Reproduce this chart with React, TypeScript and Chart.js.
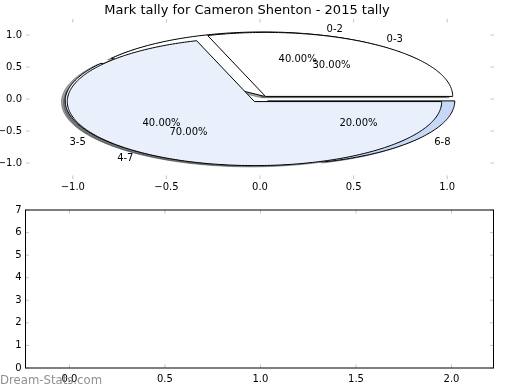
import React, { useEffect, useRef } from 'react';
import { Chart, registerables } from 'chart.js';

Chart.register(...registerables);

// ---------- data ----------
const TITLE = 'Mark tally for Cameron Shenton - 2015 tally';
const pieALabels = ['0-2', '3-5', '6-8'];
const pieAValues = [40, 40, 20];
const pieBLabels = ['0-3', '4-7'];
const pieBValues = [30, 70];
const sliceColors = ['#ffffff', '#eaf0fb', '#c6d8f5'];
const explodeAmount = 0.05;

const topXTicks = [-1.0, -0.5, 0.0, 0.5, 1.0];
const topYTicks = [-1.0, -0.5, 0.0, 0.5, 1.0];
const bottomXTicks = [0.0, 0.5, 1.0, 1.5, 2.0];
const bottomYTicks = [0, 1, 2, 3, 4, 5, 6, 7];
const WATERMARK = 'Dream-Stats.com';

const FONT = 'DejaVu Sans';

function fmt1(v: number) {
  const s = Math.abs(v).toFixed(1);
  return v < 0 ? '\u2212' + s : s;
}

function hexToRgb(h: string) {
  const n = parseInt(h.slice(1), 16);
  return [(n >> 16) & 255, (n >> 8) & 255, n & 255];
}

function drawInwardTicks(chart: any) {
  const { ctx, chartArea: a, scales } = chart;
  const L = 3.5;
  ctx.save();
  ctx.strokeStyle = '#c4c4c4';
  ctx.lineWidth = 1;
  ctx.beginPath();
  scales.x.ticks.forEach((t: any) => {
    const px = scales.x.getPixelForValue(t.value);
    ctx.moveTo(px, a.top);
    ctx.lineTo(px, a.top + L);
    ctx.moveTo(px, a.bottom);
    ctx.lineTo(px, a.bottom - L);
  });
  scales.y.ticks.forEach((t: any) => {
    const py = scales.y.getPixelForValue(t.value);
    ctx.moveTo(a.left, py);
    ctx.lineTo(a.left + L, py);
    ctx.moveTo(a.right, py);
    ctx.lineTo(a.right - L, py);
  });
  ctx.stroke();
  ctx.restore();
}

function wedgePath(chart: any, cx: number, cy: number, r: number, t1: number, t2: number) {
  const xs = chart.scales.x;
  const ys = chart.scales.y;
  const ctx = chart.ctx;
  ctx.beginPath();
  ctx.moveTo(xs.getPixelForValue(cx), ys.getPixelForValue(cy));
  const n = Math.max(8, Math.ceil(t2 - t1));
  for (let i = 0; i <= n; i++) {
    const t = ((t1 + ((t2 - t1) * i) / n) * Math.PI) / 180;
    ctx.lineTo(xs.getPixelForValue(cx + r * Math.cos(t)), ys.getPixelForValue(cy + r * Math.sin(t)));
  }
  ctx.closePath();
}

function buildWedges(labels: string[], values: number[]) {
  const total = values.reduce((s, v) => s + v, 0);
  let theta1 = 0;
  return values.map((v, i) => {
    const theta2 = theta1 + (360 * v) / total;
    const mid = (((theta1 + theta2) / 2) * Math.PI) / 180;
    const cx = explodeAmount * Math.cos(mid);
    const cy = explodeAmount * Math.sin(mid);
    const w = {
      label: labels[i],
      pct: ((100 * v) / total).toFixed(2) + '%',
      t1: theta1,
      t2: theta2,
      mid,
      cx,
      cy,
      color: sliceColors[i % sliceColors.length],
    };
    theta1 = theta2;
    return w;
  });
}

const piePlugin = {
  id: 'overlayPies',
  afterDatasetsDraw(chart: any) {
    const ctx = chart.ctx;
    const xs = chart.scales.x;
    const ys = chart.scales.y;
    const pies = [buildWedges(pieALabels, pieAValues), buildWedges(pieBLabels, pieBValues)];
    ctx.save();
    // shadows (below all wedges)
    pies.forEach((pie) =>
      pie.forEach((w) => {
        const [r, g, b] = hexToRgb(w.color);
        const c = `rgba(${Math.round(r * 0.3)},${Math.round(g * 0.3)},${Math.round(b * 0.3)},0.5)`;
        wedgePath(chart, w.cx - 0.02, w.cy - 0.02, 1, w.t1, w.t2);
        ctx.fillStyle = c;
        ctx.fill();
        ctx.strokeStyle = c;
        ctx.lineWidth = 1;
        ctx.stroke();
      })
    );
    // wedges
    pies.forEach((pie) =>
      pie.forEach((w) => {
        wedgePath(chart, w.cx, w.cy, 1, w.t1, w.t2);
        ctx.fillStyle = w.color;
        ctx.fill();
        ctx.strokeStyle = '#000';
        ctx.lineWidth = 1;
        ctx.lineJoin = 'miter';
        ctx.stroke();
      })
    );
    // texts
    ctx.font = `10px "${FONT}"`;
    ctx.fillStyle = '#000';
    ctx.textBaseline = 'middle';
    pies.forEach((pie) =>
      pie.forEach((w) => {
        const lx = w.cx + 1.1 * Math.cos(w.mid);
        const ly = w.cy + 1.1 * Math.sin(w.mid);
        ctx.textAlign = lx > 0 ? 'left' : 'right';
        ctx.fillText(w.label, xs.getPixelForValue(lx), ys.getPixelForValue(ly));
        const px = w.cx + 0.6 * Math.cos(w.mid);
        const py = w.cy + 0.6 * Math.sin(w.mid);
        ctx.textAlign = 'center';
        ctx.fillText(w.pct, xs.getPixelForValue(px), ys.getPixelForValue(py));
      })
    );
    ctx.restore();
    drawInwardTicks(chart);
  },
};

const framePlugin = {
  id: 'frameAndMark',
  afterDatasetsDraw(chart: any) {
    const { ctx, chartArea: a } = chart;
    drawInwardTicks(chart);
    ctx.save();
    ctx.strokeStyle = '#000';
    ctx.lineWidth = 1;
    ctx.strokeRect(a.left, a.top, a.right - a.left, a.bottom - a.top);
    ctx.restore();
  },
  afterDraw(chart: any) {
    const ctx = chart.ctx;
    ctx.save();
    ctx.font = `11.7px "${FONT}"`;
    ctx.fillStyle = 'rgba(125,125,125,0.85)';
    ctx.textAlign = 'left';
    ctx.textBaseline = 'alphabetic';
    ctx.fillText(WATERMARK, 0, 189);
    ctx.restore();
  },
};

function axis(min: number, max: number, ticks: number[], fmt: (v: number) => string, fit: (s: any) => void, pad: number) {
  return {
    type: 'linear' as const,
    min,
    max,
    grid: { display: false, drawTicks: false },
    border: { display: false },
    ticks: {
      autoSkip: false,
      maxRotation: 0,
      padding: pad,
      color: '#000',
      font: { family: FONT, size: 10 },
      callback: (v: any) => fmt(Number(v)),
    },
    afterBuildTicks: (s: any) => {
      s.ticks = ticks.map((v) => ({ value: v }));
    },
    afterFit: fit,
  };
}

export default function App() {
  const topRef = useRef<HTMLCanvasElement>(null);
  const botRef = useRef<HTMLCanvasElement>(null);

  useEffect(() => {
    document.body.style.margin = '0';
    const top = new Chart(topRef.current as HTMLCanvasElement, {
      type: 'scatter',
      data: { datasets: [{ data: [] }] },
      options: {
        responsive: false,
        animation: false,
        devicePixelRatio: 1,
        layout: { padding: { top: 0, right: 26, left: 0, bottom: 0 } },
        plugins: {
          legend: { display: false },
          tooltip: { enabled: false },
          title: {
            display: true,
            text: TITLE,
            color: '#000',
            font: { family: FONT, size: 13, weight: 'normal', lineHeight: 1.2 },
            padding: { top: 3, bottom: 0.4 },
          },
        },
        scales: {
          x: axis(-1.25, 1.25, topXTicks, fmt1, (s: any) => { s.height = 16; }, 2),
          y: axis(-1.25, 1.25, topYTicks, fmt1, (s: any) => { s.width = 26; }, 4),
        },
      } as any,
      plugins: [piePlugin],
    });
    const bot = new Chart(botRef.current as HTMLCanvasElement, {
      type: 'scatter',
      data: { datasets: [{ data: [] }] },
      options: {
        responsive: false,
        animation: false,
        devicePixelRatio: 1,
        layout: { padding: { top: 15, right: 26.5, left: 0, bottom: 0 } },
        plugins: { legend: { display: false }, tooltip: { enabled: false } },
        scales: {
          x: axis(-0.23, 2.22, bottomXTicks, fmt1, (s: any) => { s.height = 22; }, 5),
          y: axis(0, 7, bottomYTicks, (v) => String(Math.round(v)), (s: any) => { s.width = 25.5; }, 4),
        },
      } as any,
      plugins: [framePlugin],
    });
    return () => {
      top.destroy();
      bot.destroy();
    };
  }, []);

  return (
    <div style={{ width: 520, height: 390, background: '#fff' }}>
      <canvas ref={topRef} width={520} height={195} style={{ display: 'block' }} />
      <canvas ref={botRef} width={520} height={195} style={{ display: 'block' }} />
    </div>
  );
}
